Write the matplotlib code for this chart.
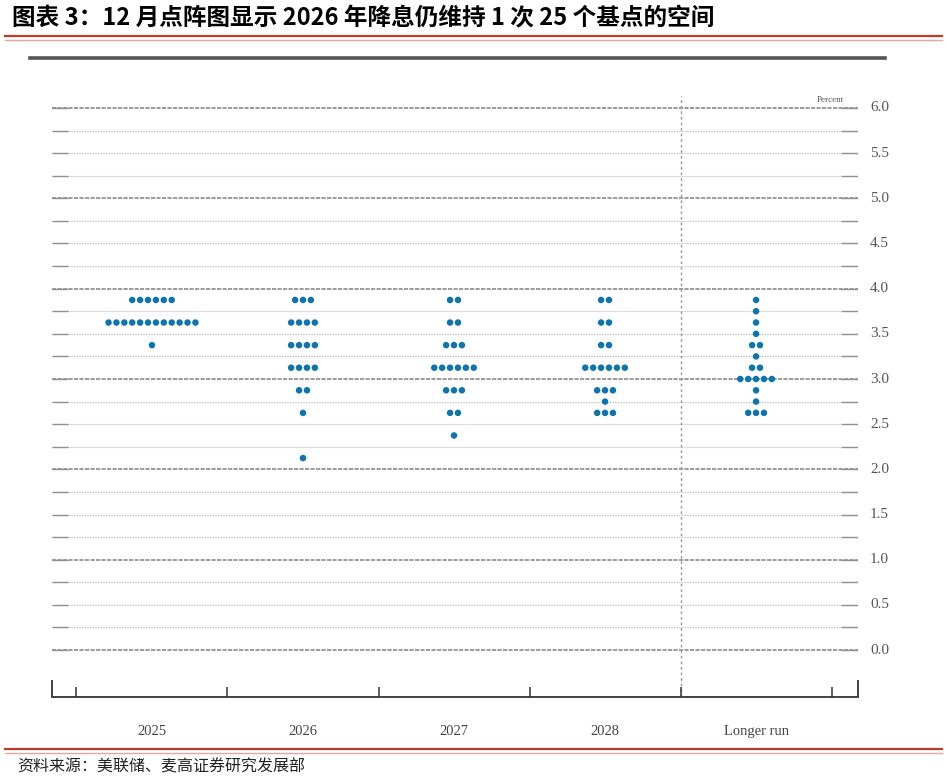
import matplotlib
matplotlib.use("Agg")
import matplotlib.pyplot as plt
from matplotlib.lines import Line2D
import numpy as np

# ---------------------------------------------------------------------------
# Data: FOMC dot plot, December (midpoint of target range, percent)
# ---------------------------------------------------------------------------
categories = ["2025", "2026", "2027", "2028", "Longer run"]
levels = [3.875, 3.75, 3.625, 3.5, 3.375, 3.25, 3.125, 3.0,
          2.875, 2.75, 2.625, 2.5, 2.375, 2.25, 2.125]
counts_2025 = [6, 0, 12, 0, 1, 0, 0, 0, 0, 0, 0, 0, 0, 0, 0]
counts_2026 = [3, 0, 4, 0, 4, 0, 4, 0, 2, 0, 1, 0, 0, 0, 1]
counts_2027 = [2, 0, 2, 0, 3, 0, 6, 0, 3, 0, 2, 0, 1, 0, 0]
counts_2028 = [2, 0, 2, 0, 2, 0, 6, 0, 3, 1, 3, 0, 0, 0, 0]
counts_lr = [1, 1, 1, 1, 2, 1, 2, 5, 1, 1, 3, 0, 0, 0, 0]
all_counts = [counts_2025, counts_2026, counts_2027, counts_2028, counts_lr]
ytick_vals = [0.0, 0.5, 1.0, 1.5, 2.0, 2.5, 3.0, 3.5, 4.0, 4.5, 5.0, 5.5, 6.0]

title = "图表 3：12 月点阵图显示 2026 年降息仍维持 1 次 25 个基点的空间"
source = "资料来源：美联储、麦高证券研究发展部"

W, H = 947, 780
DOT = "#0e74b0"
SERIF = ["Liberation Serif", "DejaVu Serif"]
CJK = ["Noto Sans CJK SC", "DejaVu Sans"]

fig = plt.figure(figsize=(W / 100, H / 100), dpi=100)
fig.patch.set_facecolor("white")

# overlay axes in pixel coordinates for frame decorations
deco = fig.add_axes([0, 0, 1, 1])
deco.set_xlim(0, W)
deco.set_ylim(H, 0)
deco.axis("off")

deco.text(12, 18, title, fontsize=17, fontweight="bold", family=CJK,
          ha="left", va="center", color="black")
for yy, col, lw in [(36, "#c0392b", 1.6), (39.5, "#e7a3a0", 1.0)]:
    deco.add_line(Line2D([5, 942], [yy, yy], color=col, lw=lw))
deco.add_line(Line2D([30, 885], [58, 58], color="#555555", lw=2.6))
for yy, col, lw in [(749, "#c0392b", 1.6), (752.5, "#e7a3a0", 1.0)]:
    deco.add_line(Line2D([5, 942], [yy, yy], color=col, lw=lw))
deco.text(17, 767, source, fontsize=11.5, family=CJK, ha="left", va="center",
          color="#222222")

# ---------------------------------------------------------------------------
# Main chart axes
# ---------------------------------------------------------------------------
ax_l, ax_r, ax_b, ax_t = 52, 858, 697, 90
ax = fig.add_axes([ax_l / W, 1 - ax_b / H, (ax_r - ax_l) / W, (ax_b - ax_t) / H])
ax.set_xlim(-0.662, 4.675)
ax.set_ylim(-0.520, 6.199)
for s in ["top", "left", "right"]:
    ax.spines[s].set_visible(False)
ax.spines["bottom"].set_color("#333333")
ax.spines["bottom"].set_linewidth(1.3)
ax.set_xticks([])
ax.set_yticks([])
ax.patch.set_alpha(0)

# horizontal grid every 0.25 (whole percents drawn darker)
x0, x1 = -0.662, 4.675
for v in np.arange(0, 6.01, 0.25):
    whole = abs(v - round(v)) < 1e-9
    if whole:
        ax.hlines(v, x0, x1, colors="#8a8a8a", linestyles=(0, (2.5, 0.8)),
                  lw=1.2, zorder=1)
    else:
        ax.hlines(v, x0, x1, colors="#bdbdbd", linestyles=(0, (1.2, 1.2)),
                  lw=0.8, zorder=1)
    ax.hlines(v, x0, x0 + 0.105, colors="#909090", lw=1.0, zorder=1)
    ax.hlines(v, x1 - 0.115, x1, colors="#909090", lw=1.0, zorder=1)

# vertical separator before longer run
ax.vlines(3.5, -0.52, 6.13, colors="#999999", linestyles=(0, (2, 2)), lw=1.0,
          zorder=1)

# bottom ticks
for t in [-0.5, 0.5, 1.5, 2.5, 3.5, 4.5]:
    ax.vlines(t, -0.52, -0.52 + 10 / 90.33, colors="#333333", lw=1.1,
              clip_on=False)
for t in [x0, x1]:
    ax.vlines(t, -0.52, -0.52 + 17 / 90.33, colors="#333333", lw=1.3,
              clip_on=False)

# y tick labels on the right
for v in ytick_vals:
    ax.text(x1 + 0.08, v, f"{v:.1f}", fontsize=11, family=SERIF,
            color="#555555", ha="left", va="center", clip_on=False)
ax.text(4.49, 6.09, "Percent", fontsize=6.5, family=SERIF, color="#555555",
        ha="center", va="center")

# category labels
for i, c in enumerate(categories):
    ax.text(i, -0.905, c, fontsize=10.5, family=SERIF, color="#444444",
            ha="center", va="center", clip_on=False)

# dots
step = 7.9 / 151
for i, counts in enumerate(all_counts):
    xs, ys = [], []
    for lev, n in zip(levels, counts):
        for k in range(n):
            xs.append(i + (k - (n - 1) / 2) * step)
            ys.append(lev)
    ax.scatter(xs, ys, s=22, color=DOT, edgecolors="none", zorder=3)

fig.savefig("out.png", dpi=100)
